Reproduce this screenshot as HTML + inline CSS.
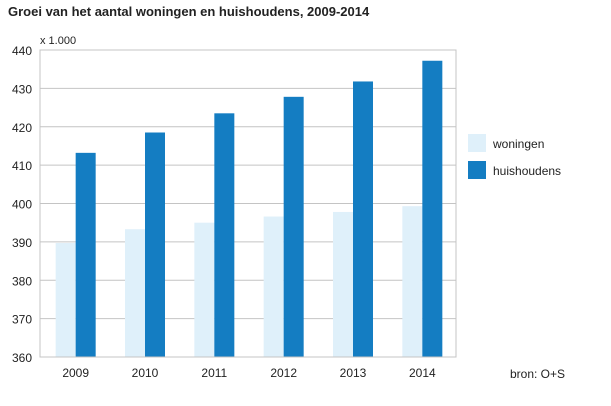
<!DOCTYPE html>
<html><head><meta charset="utf-8"><style>
body{margin:0;background:#fff;font-family:"Liberation Sans",sans-serif}
svg text{font-family:"Liberation Sans",sans-serif;fill:#222}
</style></head><body>
<svg width="611" height="401" viewBox="0 0 611 401">
<text x="8" y="16" font-size="13" font-weight="bold">Groei van het aantal woningen en huishoudens, 2009-2014</text>
<text x="40" y="44" font-size="11">x 1.000</text>
<g id="grid"></g><g id="bars"></g><g id="axes"></g>
<rect x="468" y="134" width="18" height="18" fill="#dff0fa"/>
<text x="493" y="148" font-size="12">woningen</text>
<rect x="468" y="161" width="18" height="18" fill="#147dc2"/>
<text x="493" y="175" font-size="12">huishoudens</text>
<text x="510" y="378" font-size="12">bron: O+S</text>
</svg>
<script>
const categories=["2009","2010","2011","2012","2013","2014"];
const woningen=[389.7,393.3,395.0,396.6,397.8,399.3];
const huishoudens=[413.2,418.5,423.5,427.8,431.8,437.2];
const yTicks=[360,370,380,390,400,410,420,430,440];
const NS="http://www.w3.org/2000/svg";
const L=40,R=456,T=50,B=357,yMin=360,yMax=440;
const y=v=>B-(v-yMin)/(yMax-yMin)*(B-T);
const gw=(R-L)/categories.length;
const cx=i=>L+gw*(i+0.5);
function mk(tag,attrs,parent){const e=document.createElementNS(NS,tag);for(const k in attrs)e.setAttribute(k,attrs[k]);parent.appendChild(e);return e;}
const grid=document.getElementById('grid'),bars=document.getElementById('bars'),axes=document.getElementById('axes');
yTicks.forEach(t=>{
 const l=mk('line',{x1:L,x2:R,y1:y(t),y2:y(t),stroke:'#c4c4c4','stroke-width':1},grid);
 
 
 const tx=mk('text',{x:L-8,y:y(t)+5,'font-size':12,'text-anchor':'end'},axes);
 tx.textContent=t;
 
 
});
const fr=mk('rect',{x:L,y:T,width:R-L,height:B-T,fill:'none',stroke:'#c4c4c4'},axes);


categories.forEach((c,i)=>{
 const bw=20,c0=cx(i)+1;
 const a=mk('rect',{x:c0-bw,y:y(woningen[i]),width:bw,height:B-y(woningen[i]),fill:'#dff0fa'},bars);
 
 
 const b=mk('rect',{x:c0,y:y(huishoudens[i]),width:bw,height:B-y(huishoudens[i]),fill:'#147dc2'},bars);
 
 
 const tx=mk('text',{x:c0,y:B+20,'font-size':12,'text-anchor':'middle'},axes);
 tx.textContent=c;
 
 
});
</script>
</body></html>
